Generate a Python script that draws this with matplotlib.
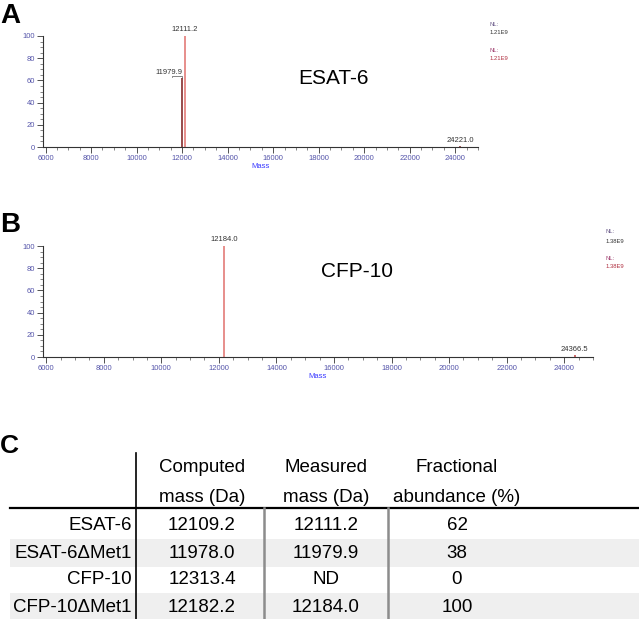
import matplotlib
matplotlib.use("Agg")
import matplotlib.pyplot as plt
from matplotlib.ticker import MultipleLocator

plt.rcParams['font.family'] = ['Liberation Sans', 'DejaVu Sans']

W, H = 639, 619

# panel A spectrum
a_mass = [11979.9, 12111.2, 24221.0]
a_int = [62, 100, 1]
a_colors = ['#7a1a1a', '#e0706c', '#8a2a2a']
a_labels = ['11979.9', '12111.2', '24221.0']
a_nl = '1.21E9'

# panel B spectrum
b_mass = [12184.0, 24366.5]
b_int = [100, 2]
b_colors = ['#e0706c', '#c04040']
b_labels = ['12184.0', '24366.5']
b_nl = '1.38E9'

# table C
t_header1 = ['Computed', 'Measured', 'Fractional']
t_header2 = ['mass (Da)', 'mass (Da)', 'abundance (%)']
t_rows = ['ESAT-6', 'ESAT-6\u0394Met1', 'CFP-10', 'CFP-10\u0394Met1']
t_computed = ['12109.2', '11978.0', '12313.4', '12182.2']
t_measured = ['12111.2', '11979.9', 'ND', '12184.0']
t_abund = ['62', '38', '0', '100']

fig = plt.figure(figsize=(W / 100, H / 100), dpi=100)


def rect(x0, y0, x1, y1):
    return [x0 / W, 1 - y1 / H, (x1 - x0) / W, (y1 - y0) / H]


def spectrum(ax, mass, ints, colors):
    ax.vlines(mass, 0, ints, colors=colors, lw=1.1)
    ax.set_xlim(5890, 25000)
    ax.set_ylim(0, 100)
    for s in ['top', 'right']:
        ax.spines[s].set_visible(False)
    for s in ['left', 'bottom']:
        ax.spines[s].set_color('#333333')
        ax.spines[s].set_linewidth(0.8)
    ax.set_xticks(range(6000, 24001, 2000))
    ax.set_yticks(range(0, 101, 20))
    ax.xaxis.set_minor_locator(MultipleLocator(500))
    ax.yaxis.set_minor_locator(MultipleLocator(5))
    ax.tick_params(which='major', length=4, width=0.6, color='#333333',
                   labelsize=5.5, labelcolor='#5555aa', pad=1.5)
    ax.tick_params(which='minor', length=2, width=0.5, color='#555555')
    ax.set_xlabel('Mass', fontsize=5.5, color='#3a3aff', labelpad=1)
    ax.patch.set_alpha(0)


def nl_block(x, y, val):
    fig.text(x / W, 1 - y / H, 'NL:', fontsize=4.2, color='#6a5a8a', va='center')
    fig.text(x / W, 1 - (y + 9) / H, val, fontsize=4.2, color='#333333', va='center')
    fig.text(x / W, 1 - (y + 27) / H, 'NL:', fontsize=4.2, color='#a04070', va='center')
    fig.text(x / W, 1 - (y + 35) / H, val, fontsize=4.2, color='#b03040', va='center')


# ---- panel A ----
axA = fig.add_axes(rect(43, 36, 478, 147))
spectrum(axA, a_mass, a_int, a_colors)
axA.text(a_mass[1], 103, a_labels[1], ha='center', va='bottom', fontsize=5.5, color='#333333')
axA.text(11420, 64, a_labels[0], ha='center', va='bottom', fontsize=5.5, color='#333333')
axA.plot([11560, 11560, a_mass[0], a_mass[0]], [63, 64, 64, 62], color='#555555', lw=0.5)
axA.text(a_mass[2], 2.5, a_labels[2], ha='center', va='bottom', fontsize=5.5, color='#333333')
axA.text((333 - 43) / 435, 0.62, 'ESAT-6', transform=axA.transAxes, ha='center', va='center', fontsize=15)
nl_block(490, 24, a_nl)
fig.text(0.0, 1 - 23 / H, 'A', fontsize=20, fontweight='bold', va='baseline')

# ---- panel B ----
axB = fig.add_axes(rect(43, 246, 593, 357))
spectrum(axB, b_mass, b_int, b_colors)
axB.text(b_mass[0], 103, b_labels[0], ha='center', va='bottom', fontsize=5.5, color='#333333')
axB.text(b_mass[1], 3.5, b_labels[1], ha='center', va='bottom', fontsize=5.5, color='#333333')
axB.text((357 - 43) / 550, 0.77, 'CFP-10', transform=axB.transAxes, ha='center', va='center', fontsize=15)
nl_block(606, 232, b_nl)
fig.text(0.0, 1 - 232 / H, 'B', fontsize=20, fontweight='bold', va='baseline')

# ---- panel C table ----
axC = fig.add_axes([0, 0, 1, 1])
axC.set_xlim(0, W)
axC.set_ylim(H, 0)
axC.axis('off')
axC.patch.set_alpha(0)

tfont = dict(fontsize=13.5)
col_x = [202, 326, 457]
row_y = [525, 553, 580, 607]
row_h = 27.5

for i, y in enumerate(row_y):
    if i % 2 == 1:
        axC.add_patch(plt.Rectangle((10, y - row_h / 2), W - 10, row_h, color='#efefef', lw=0, zorder=0))
for j, x in enumerate(col_x):
    axC.text(x, 468, t_header1[j], ha='center', va='center', **tfont)
    axC.text(x, 497, t_header2[j], ha='center', va='center', **tfont)
for i, y in enumerate(row_y):
    axC.text(132, y, t_rows[i], ha='right', va='center', **tfont)
    axC.text(col_x[0], y, t_computed[i], ha='center', va='center', **tfont)
    axC.text(col_x[1], y, t_measured[i], ha='center', va='center', **tfont)
    axC.text(col_x[2], y, t_abund[i], ha='center', va='center', **tfont)

axC.plot([10, W], [508, 508], color='black', lw=1.6)
axC.plot([136, 136], [453, H], color='black', lw=1.2)
for x in [264, 388]:
    axC.plot([x, x], [508, H], color='#8c8c8c', lw=1.8)
fig.text(0.0, 1 - 453 / H, 'C', fontsize=19, fontweight='bold', va='baseline')

fig.savefig('out.png', dpi=100)
